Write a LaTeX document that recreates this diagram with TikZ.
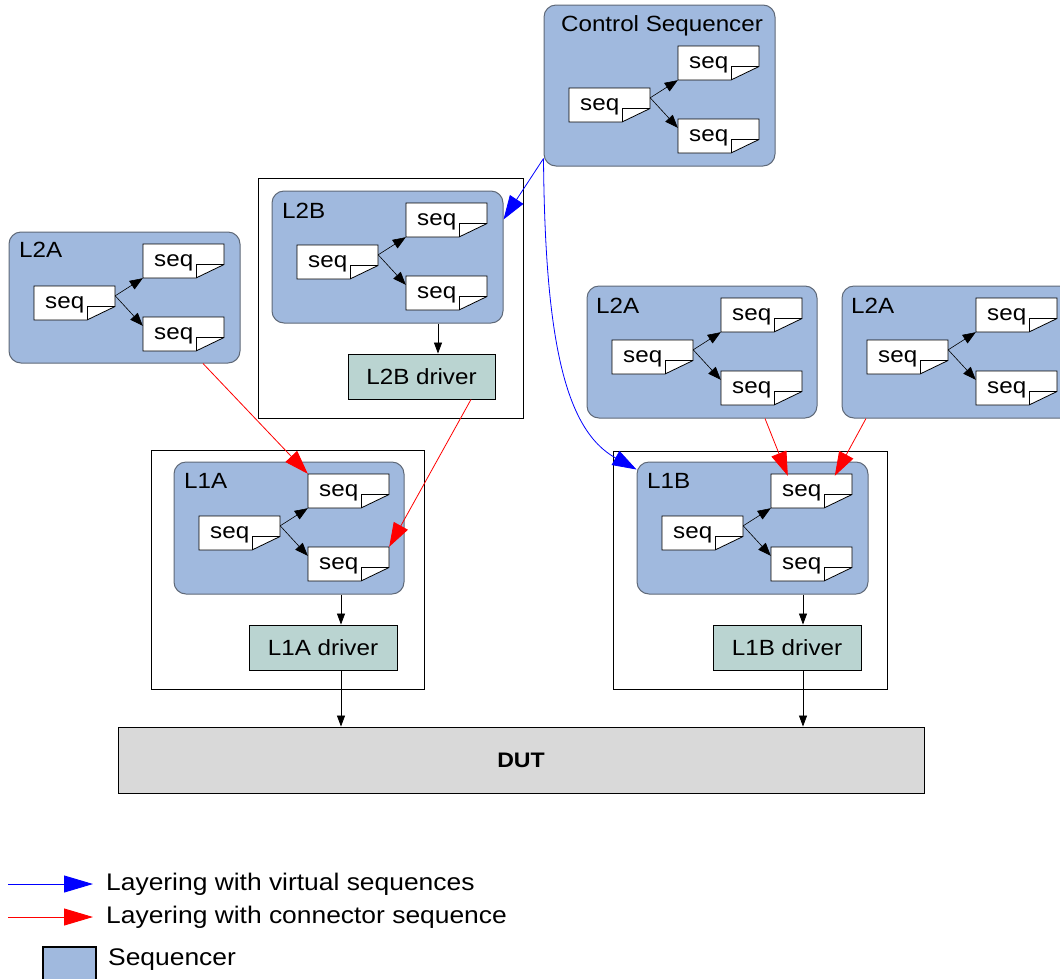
\documentclass[tikz,border=0pt]{standalone}
\usepackage{fontspec}
\setmainfont[FakeStretch=1.1]{Liberation Sans}
\usetikzlibrary{arrows.meta}
\definecolor{seqblue}{RGB}{160,185,222}
\definecolor{seqedge}{RGB}{95,105,120}
\definecolor{drvfill}{RGB}{186,212,209}
\definecolor{dutfill}{RGB}{217,217,217}
\definecolor{lblue}{RGB}{0,0,255}
\definecolor{lred}{RGB}{255,0,0}
\tikzset{
  x=1pt, y=-1pt,
  seqr/.style={draw=seqedge, line width=1pt, fill=seqblue, rounded corners=12pt, inner sep=0pt},
  outerbox/.style={draw=black, line width=0.9pt, fill=white, inner sep=0pt},
  drvbox/.style={draw=black, line width=0.9pt, fill=drvfill, inner sep=0pt, font=\fontsize{22}{26}\selectfont},
  docnode/.style={rectangle, minimum width=81pt, minimum height=34pt, inner sep=0pt, draw=none},
  docline/.style={draw=black, line width=0.8pt, fill=white},
  foldline/.style={draw=black, line width=0.8pt},
  seqtext/.style={anchor=base west, inner sep=0pt, font=\fontsize{22}{26}\selectfont},
  lbl/.style={anchor=base west, inner sep=0pt, font=\fontsize{22}{26}\selectfont},
  iarr/.style={draw=black, line width=0.6pt, -{Triangle[length=13pt,width=10pt]}},
  darr/.style={draw=black, line width=0.8pt, -{Triangle[length=11pt,width=8pt]}},
  rarr/.style={draw=lred, line width=0.8pt, -{Triangle[length=24pt,width=16pt]}},
  barr/.style={draw=lblue, line width=0.8pt, -{Triangle[length=24pt,width=16pt]}},
  legtext/.style={anchor=west, inner sep=0pt, font=\fontsize{24}{29}\selectfont},
}
\newcommand\seqdocument[3]{%
  \node[docnode] (#1) at (#2+40.5,#3+17) {};
  \draw[docline] (#2,#3) -- ++(81,0) -- ++(0,20.5) -- ++(-28,13.5) -- ++(-53,0) -- cycle;
  \draw[foldline] (#2+53,#3+34) -- ++(0,-13.5) -- ++(28,0);
  \node[seqtext] (#1t) at (#2+11,#3+22) {seq};
}
\newcommand\seqtrio[3]{%
  \seqdocument{#1L}{#2+25}{#3+54}
  \seqdocument{#1T}{#2+134}{#3+12}
  \seqdocument{#1B}{#2+134}{#3+85}
  \draw[iarr] ([yshift=-10pt]#1L.north east) -- (#1T.south west);
  \draw[iarr] ([yshift=-10pt]#1L.north east) -- ([yshift=-9pt]#1B.north west);
}
\begin{document}
\begin{tikzpicture}
\clip (0,0) rectangle (1060,978);
\fill[white] (0,0) rectangle (1060,978);

% Control sequencer
\node[seqr, minimum width=231pt, minimum height=161pt] (cs) at (659.5,85.5) {};
\node[anchor=base, inner sep=0pt, font=\fontsize{22}{26}\selectfont] (cslbl) at (662,31) {Control Sequencer};
\seqtrio{cs}{544}{34}

% L2A left
\node[seqr, minimum width=231pt, minimum height=131pt] (l2aL) at (124.5,297.5) {};
\node[lbl] (l2aLlbl) at (19,257) {L2A};
\seqtrio{aL}{9}{232}

% L2B environment
\node[outerbox, minimum width=265pt, minimum height=240pt] (l2bout) at (390.5,298) {};
\node[seqr, minimum width=231pt, minimum height=132pt] (l2b) at (387.5,257) {};
\node[lbl] (l2blbl) at (282,218) {L2B};
\seqtrio{b}{272}{191}
\node[drvbox, minimum width=147pt, minimum height=45pt] (l2bdrv) at (421.5,376.5) {L2B driver};

% L2A middle
\node[seqr, minimum width=230pt, minimum height=132pt] (l2aM) at (702,352) {};
\node[lbl] (l2aMlbl) at (596,313) {L2A};
\seqtrio{aM}{587}{286}

% L2A right
\node[seqr, minimum width=231pt, minimum height=132pt] (l2aR) at (957.5,352) {};
\node[lbl] (l2aRlbl) at (851,313) {L2A};
\seqtrio{aR}{842}{286}

% L1A environment
\node[outerbox, minimum width=273pt, minimum height=239pt] (l1aout) at (287.5,569.5) {};
\node[seqr, minimum width=230pt, minimum height=132pt] (l1a) at (289,528) {};
\node[lbl] (l1albl) at (184,488) {L1A};
\seqtrio{p}{174}{462}
\node[drvbox, minimum width=148pt, minimum height=45pt] (l1adrv) at (323,647.5) {L1A driver};

% L1B environment
\node[outerbox, minimum width=274pt, minimum height=238pt] (l1bout) at (750,570) {};
\node[seqr, minimum width=231pt, minimum height=132pt] (l1b) at (752.5,528) {};
\node[lbl] (l1blbl) at (647,488) {L1B};
\seqtrio{q}{637}{462}
\node[drvbox, minimum width=148pt, minimum height=45pt] (l1bdrv) at (787,647.5) {L1B driver};

% DUT
\node[draw=black, line width=0.9pt, fill=dutfill, minimum width=806pt, minimum height=66pt, inner sep=0pt,
      font=\fontsize{21}{25}\selectfont\bfseries] (dut) at (521,760) {DUT};

% driver connectors
\coordinate (xb) at (438,0);
\coordinate (xa) at (341,0);
\coordinate (xc) at (803,0);
\draw[darr] (l2b.south -| xb) -- (l2bdrv.north -| xb);
\draw[darr] (l1a.south -| xa) -- (l1adrv.north -| xa);
\draw[darr] (l1adrv.south -| xa) -- (dut.north -| xa);
\draw[darr] (l1b.south -| xc) -- (l1bdrv.north -| xc);
\draw[darr] (l1bdrv.south -| xc) -- (dut.north -| xc);

% red connector-sequence layering
\coordinate (r1) at (203,0);
\coordinate (r2) at (471,0);
\coordinate (r3) at (765,0);
\coordinate (r4) at (866,0);
\draw[rarr] (l2aL.south -| r1) -- (pT.north west);
\draw[rarr] (l2bdrv.south -| r2) -- (pB.north east);
\draw[rarr] (l2aM.south -| r3) -- ([xshift=17pt,yshift=-2pt]qT.north west);
\draw[rarr] (l2aR.south -| r4) -- ([xshift=64pt,yshift=-2pt]qT.north west);

% blue virtual-sequence layering
\coordinate (bs) at ([yshift=8pt]cs.south west);
\draw[barr] (bs) -- ([yshift=-29pt]l2b.north east);
\draw[barr] (bs) .. controls (545,340) and (565,430) .. ([yshift=-8pt]l1b.north west);

% legend
\coordinate (lb1s) at (8,884);
\coordinate (lb1e) at (93,884);
\coordinate (lr1s) at (8,917);
\coordinate (lr1e) at (93,917);
\draw[draw=lblue, line width=0.9pt, -{Triangle[length=29pt,width=17pt]}] (lb1s) -- (lb1e);
\draw[draw=lred, line width=0.9pt, -{Triangle[length=29pt,width=17pt]}] (lr1s) -- (lr1e);
\node[legtext] (lt1) at (106,884) {Layering with virtual sequences};
\node[legtext] (lt2) at (106,917) {Layering with connector sequence};
\node[draw=black, line width=2pt, fill=seqblue, minimum width=53pt, minimum height=34pt, inner sep=0pt] (lsq) at (69.5,964) {};
\node[legtext] (lt3) at (108,960) {Sequencer};
\end{tikzpicture}
\end{document}
